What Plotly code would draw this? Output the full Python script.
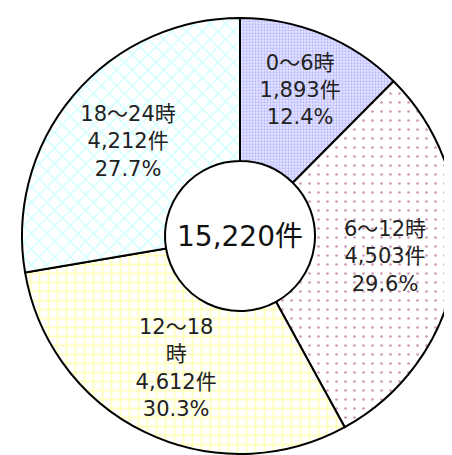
import plotly.graph_objects as go

categories = ["0～6時", "6～12時", "12～18<br>時", "18～24時"]
counts = [1893, 4503, 4612, 4212]
pct_labels = ["12.4%", "29.6%", "30.3%", "27.7%"]
total_label = "15,220件"

texts = [f"{c}<br>{n:,}件<br>{p}" for c, n, p in zip(categories, counts, pct_labels)]

FONT = "DejaVu Sans, Noto Sans CJK JP"

fig = go.Figure(go.Pie(
    values=counts,
    labels=categories,
    text=texts,
    textinfo="text",
    textposition="inside",
    insidetextorientation="horizontal",
    sort=False,
    direction="clockwise",
    rotation=0,
    hole=0.344,
    marker=dict(
        colors=["white", "white", "white", "white"],
        line=dict(color="black", width=2),
        pattern=dict(
            shape=[".", ".", "+", "x"],
            fgcolor=["#8f8fff", "#993366", "#ffff80", "#99ffff"],
            bgcolor=["#e6e6ff", "white", "white", "white"],
            size=[3, 9, 9, 11],
            solidity=[0.45, 0.07, 0.38, 0.22],
            fillmode="overlay",
        ),
    ),
    textfont=dict(family=FONT, size=21, color="#222222"),
    showlegend=False,
    hoverinfo="none",
))

fig.add_annotation(
    text=total_label, x=0.5, y=0.5, xref="paper", yref="paper",
    showarrow=False, font=dict(family=FONT, size=28, color="#111111"),
)

fig.update_layout(
    width=452, height=455,
    margin=dict(l=14, r=2, t=10, b=9),
    paper_bgcolor="white", plot_bgcolor="white",
)

fig.write_html("out.html")
